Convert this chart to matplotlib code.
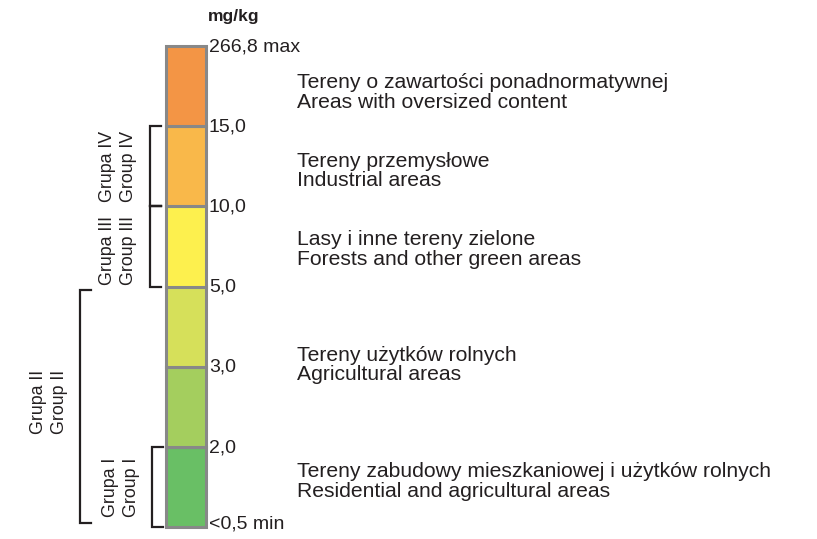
import matplotlib.pyplot as plt
from matplotlib.patches import Rectangle

# class boundaries, bottom to top
bound_labels = ["<0,5 min", "2,0", "3,0", "5,0", "10,0", "15,0", "266,8 max"]
box_colors = ["#69bf65", "#a4ce5e", "#d6e05a", "#fdf04e", "#f9b84a", "#f39545"]

# descriptions (Polish, English) and the level they sit at (in box units)
desc_pl = ["Tereny zabudowy mieszkaniowej i użytków rolnych",
           "Tereny użytków rolnych",
           "Lasy i inne tereny zielone",
           "Tereny przemysłowe",
           "Tereny o zawartości ponadnormatywnej"]
desc_en = ["Residential and agricultural areas",
           "Agricultural areas",
           "Forests and other green areas",
           "Industrial areas",
           "Areas with oversized content"]
desc_level = [0.57, 2.02, 3.46, 4.44, 5.42]

# groups: label, lower boundary, upper boundary, bracket column
group_names = ["Grupa I\nGroup I", "Grupa II\nGroup II",
               "Grupa III\nGroup III", "Grupa IV\nGroup IV"]
group_lo = [0, 0.05, 3, 4]
group_hi = [1, 2.96, 4, 5]
group_x = [152, 80, 150, 150]
group_text_x = [121, 49, 118, 118]
group_text_dy = [0, 0.05, -0.05, 0]

plt.rcParams["font.family"] = ["Liberation Sans", "DejaVu Sans"]

fig = plt.figure(figsize=(8.17, 5.39), dpi=100)
ax = fig.add_axes([0, 0, 1, 1])
unit = (527 - 46) / 6.0
ax.set_xlim(0, 817)
ax.set_ylim(-(539 - 527) / unit, 6 + 46 / unit)
ax.axis("off")

ink = "#231f20"
bar_x0, bar_w = 166, 40
for i, c in enumerate(box_colors):
    ax.add_patch(Rectangle((bar_x0, i), bar_w, 1, facecolor=c,
                           edgecolor="#888888", lw=2.2, zorder=2))

for i, lab in enumerate(bound_labels):
    ax.text(bar_x0 + bar_w + 3, i + (0.04 if i == 0 else -0.01), lab,
            fontsize=14, va="center", ha="left", color=ink)

ax.text(208, 6 + 29 / unit, "mg/kg", fontsize=12.5, fontweight="bold",
        ha="left", va="center", color=ink)

for lvl, pl, en in zip(desc_level, desc_pl, desc_en):
    ax.text(297, lvl, pl + "\n" + en, fontsize=15.2, va="center", ha="left",
            linespacing=1.05, color=ink)

for name, lo, hi, gx, tx, dy in zip(group_names, group_lo, group_hi,
                                    group_x, group_text_x, group_text_dy):
    ax.plot([gx + 11, gx, gx, gx + 11], [hi, hi, lo, lo],
            color=ink, lw=1.6, solid_joinstyle="miter")
    ax.text(tx, (lo + hi) / 2 + dy, name, rotation=90, fontsize=12.8,
            ha="center", va="center", linespacing=1.35, color=ink)

# middle tick between Group III and Group IV
ax.plot([150, 161], [4, 4], color=ink, lw=1.6)

fig.savefig("out.png", dpi=100)
